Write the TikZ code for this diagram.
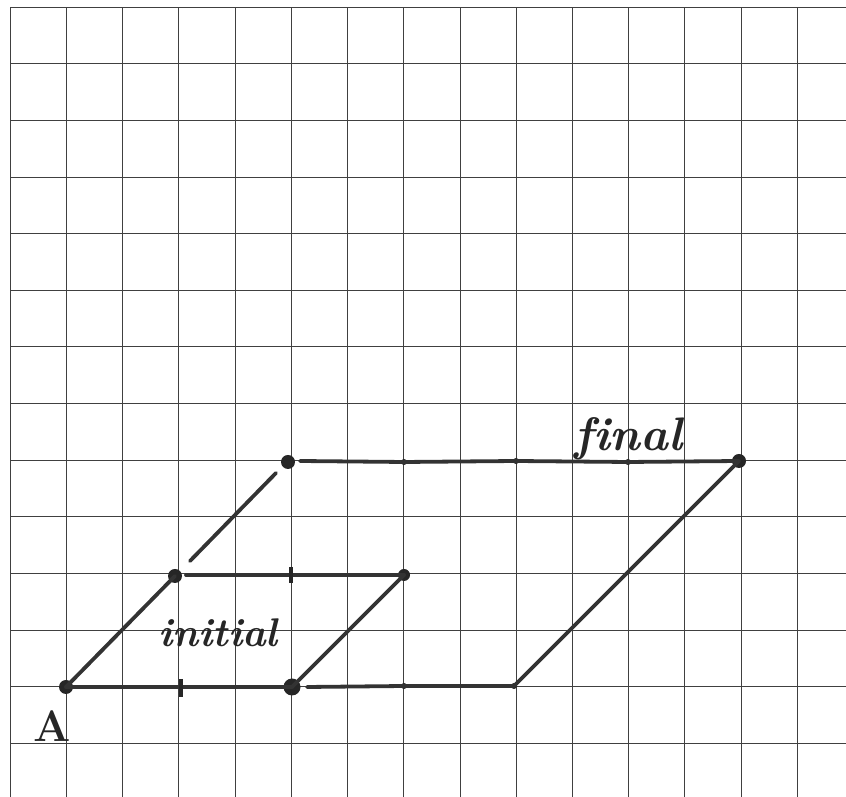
\documentclass[tikz,border=0pt]{standalone}
\usepackage{tikz}
\begin{document}
\begin{tikzpicture}[x=1pt,y=1pt,
  gridline/.style={draw=black!75,line width=0.8pt},
  pen/.style={draw=black!80,line width=3.8pt,line cap=round},
  bigdot/.style={circle,fill=black!85,inner sep=0pt,minimum size=14pt},
  hugedot/.style={circle,fill=black!85,inner sep=0pt,minimum size=17pt},
  smalldot/.style={circle,fill=black!85,inner sep=0pt,minimum size=6pt},
  tickmark/.style={draw=black!85,line width=3.2pt},
  hand/.style={font=\fontsize{40}{40}\selectfont\bfseries\itshape,text=black!85,inner sep=0pt}
]
\useasboundingbox (0,0) rectangle (846,797);
% grid
\foreach \k in {0,...,14} {
  \draw[gridline] ({10+56.24*\k},0) -- ({10+56.24*\k},790);
}
\foreach \k in {0,...,13} {
  \draw[gridline] (10,{790-56.65*\k}) -- (846,{790-56.65*\k});
}
% points
\node[bigdot] (A) at (66,110) {};
\node[hugedot] (B) at (292,110) {};
\node[smalldot] (C) at (514,111) {};
\node[bigdot,minimum size=12pt] (E) at (404,222) {};
\node[bigdot] (D) at (175,221) {};
\node[bigdot] (F) at (288,335) {};
\node[bigdot] (G) at (739,336) {};
\node[smalldot] (b1) at (404,111) {};
\node[smalldot] (t1) at (404,335) {};
\node[smalldot] (t2) at (516,336) {};
\node[smalldot] (t3) at (628,335) {};
\coordinate (s1) at (190,236);
\coordinate (s2) at (276,324);
\coordinate (Bs) at (307,110);
\coordinate (Ds) at (186,222);
\coordinate (Fs) at (300,336);
% bottom line
\draw[pen] (A.center) -- (B.center);
\draw[pen] (Bs) -- (b1.center) -- (C.center);
% middle line
\draw[pen] (Ds) -- (E.center);
% top line
\draw[pen] (Fs) -- (t1.center) -- (t2.center) -- (t3.center) -- (G.center);
% diagonals
\draw[pen] (A.center) -- (D.center);
\draw[pen] (s1) -- (s2);
\draw[pen] (B.center) -- (E.center);
\draw[pen] (C.center) -- (G.center);
% ticks
\node[inner sep=0pt] (tk1) at (181,110) {};
\draw[tickmark] ([yshift=8pt]tk1.center) -- ([yshift=-10pt]tk1.center);
\node[inner sep=0pt] (tk2) at (291,222) {};
\draw[tickmark] ([yshift=8pt]tk2.center) -- ([yshift=-8pt]tk2.center);
% labels
\node[hand,anchor=base west] (init) at (158,150) {initial};
\node[hand,anchor=base west,font=\fontsize{47}{47}\selectfont\bfseries\itshape] (fin) at (574,346) {\mbox{f}\mbox{i}nal};
\node[font=\fontsize{44}{44}\selectfont\bfseries,text=black!85,inner sep=0pt,anchor=base west] (lblA) at (33,55) {A};
\end{tikzpicture}
\end{document}
